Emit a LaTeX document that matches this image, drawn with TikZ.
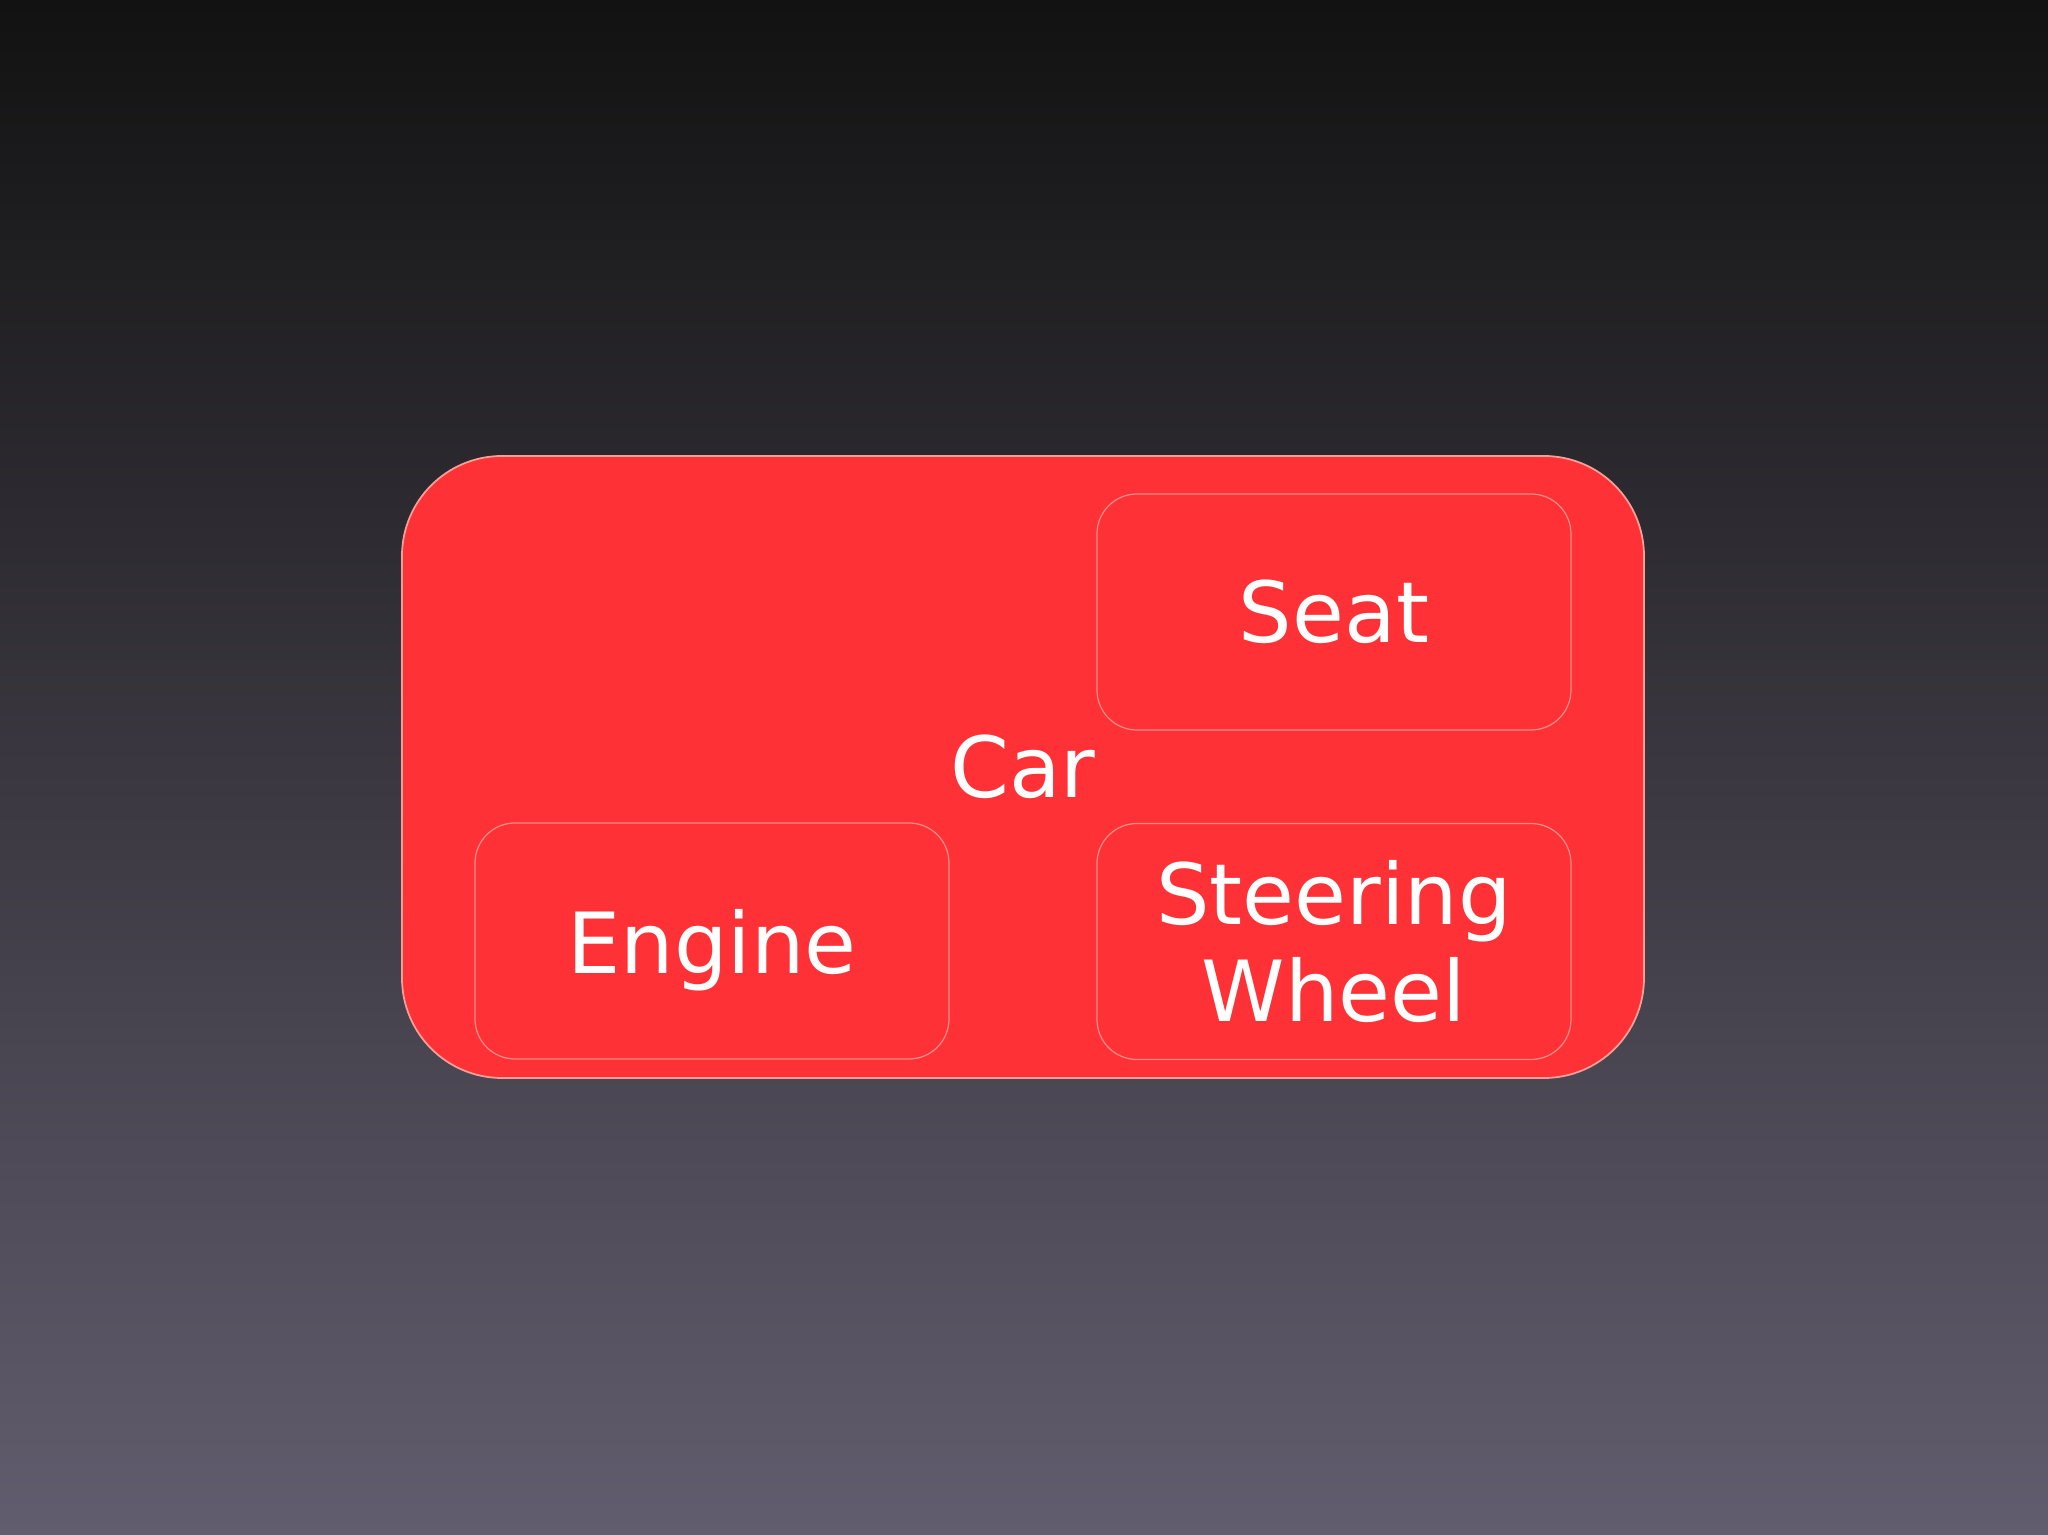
\documentclass[tikz,border=0pt]{standalone}
\usepackage{fontspec}
\setmainfont{DejaVu Sans}
\definecolor{bgtop}{RGB}{18,18,18}
\definecolor{bgmid}{RGB}{58,55,64}
\definecolor{bgbot}{RGB}{98,93,110}
\definecolor{carred}{RGB}{254,50,54}
\definecolor{outerline}{RGB}{245,160,150}
\definecolor{innerline}{RGB}{255,140,135}
\tikzset{
  carbox/.style={draw=outerline, line width=0.5pt, fill=carred, rounded corners=1cm,
    minimum width=12.42cm, minimum height=6.22cm, inner sep=0pt,
    text=white, font=\fontsize{24}{27.6}\selectfont},
  partbox/.style={draw=innerline, line width=0.35pt, fill=carred, rounded corners=0.4cm,
    minimum width=4.74cm, minimum height=2.36cm, inner sep=0pt, align=center,
    text=white, font=\fontsize{24}{27.6}\selectfont}
}
\begin{document}
\begin{tikzpicture}
\shade[top color=bgtop, bottom color=bgbot, middle color=bgmid] (0,0) rectangle (20.48,15.35);
\useasboundingbox (0,0) rectangle (20.48,15.35);
\node[carbox] (car) at (10.23,7.68) {Car};
\node[partbox] (seat) at (13.34,9.23) {Seat};
\node[partbox, text depth=0pt] (engine) at (7.12,5.94) {Engine};
\node[partbox] (wheel) at (13.34,5.935) {Steering\\Wheel};
\end{tikzpicture}
\end{document}
